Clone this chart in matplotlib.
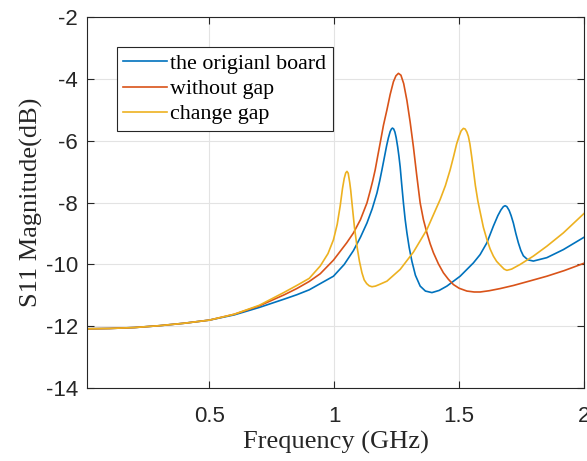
import matplotlib
matplotlib.use("Agg")
import matplotlib.pyplot as plt

plt.rcParams["axes.unicode_minus"] = False

# S11 sweep, frequency in GHz, magnitude in dB
freq_orig = [0.01, 0.1, 0.2, 0.3, 0.4, 0.5, 0.6, 0.7, 0.8, 0.85, 0.9, 0.944, 0.997,
             1.04, 1.077, 1.105, 1.131, 1.152, 1.171, 1.182, 1.191, 1.198, 1.204, 1.21,
             1.217, 1.224, 1.229, 1.233, 1.238, 1.243, 1.248, 1.254, 1.259, 1.264, 1.27,
             1.277, 1.284, 1.291, 1.3, 1.311, 1.325, 1.344, 1.365, 1.391, 1.42, 1.451,
             1.504, 1.557, 1.584, 1.611, 1.637, 1.655, 1.667, 1.677, 1.684, 1.691, 1.7,
             1.708, 1.717, 1.727, 1.737, 1.747, 1.757, 1.775, 1.797, 1.851, 1.917, 2.0]
s11_orig = [-12.08, -12.07, -12.04, -11.98, -11.9, -11.8, -11.63, -11.39, -11.12, -10.98,
            -10.82, -10.62, -10.38, -10.0, -9.55, -9.12, -8.66, -8.2, -7.69, -7.3, -6.94,
            -6.65, -6.4, -6.15, -5.9, -5.7, -5.62, -5.59, -5.62, -5.72, -5.9, -6.2, -6.5,
            -6.85, -7.4, -8.01, -8.55, -8.98, -9.45, -9.9, -10.35, -10.7, -10.86, -10.91,
            -10.84, -10.7, -10.38, -9.95, -9.68, -9.3, -8.76, -8.42, -8.24, -8.13, -8.1,
            -8.13, -8.25, -8.42, -8.66, -9.0, -9.3, -9.55, -9.72, -9.85, -9.89, -9.78,
            -9.52, -9.12]

freq_nogap = [0.01, 0.1, 0.2, 0.3, 0.4, 0.5, 0.6, 0.7, 0.8, 0.85, 0.9, 0.944, 0.997,
              1.05, 1.077, 1.105, 1.131, 1.144, 1.154, 1.164, 1.174, 1.184, 1.197, 1.211,
              1.224, 1.237, 1.247, 1.257, 1.267, 1.278, 1.291, 1.304, 1.317, 1.33, 1.344,
              1.357, 1.371, 1.384, 1.397, 1.417, 1.437, 1.457, 1.477, 1.5, 1.531, 1.56,
              1.584, 1.62, 1.664, 1.717, 1.78, 1.851, 1.92, 2.0]
s11_nogap = [-12.08, -12.07, -12.04, -11.98, -11.9, -11.8, -11.61, -11.34, -10.98, -10.78,
             -10.55, -10.3, -9.86, -9.3, -8.98, -8.55, -8.01, -7.62, -7.3, -6.94, -6.5,
             -6.07, -5.5, -5.0, -4.5, -4.09, -3.9, -3.82, -3.88, -4.15, -4.7, -5.4, -6.2,
             -7.1, -8.01, -8.55, -8.98, -9.33, -9.62, -9.98, -10.27, -10.48, -10.65, -10.77,
             -10.86, -10.89, -10.89, -10.85, -10.78, -10.68, -10.54, -10.38, -10.2, -9.96]

freq_change = [0.01, 0.1, 0.2, 0.3, 0.4, 0.5, 0.6, 0.7, 0.8, 0.85, 0.9, 0.944, 0.975,
               0.997, 1.012, 1.024, 1.033, 1.04, 1.046, 1.051, 1.056, 1.062, 1.066, 1.071,
               1.081, 1.091, 1.101, 1.111, 1.12, 1.13, 1.14, 1.151, 1.165, 1.18, 1.211,
               1.264, 1.317, 1.371, 1.424, 1.445, 1.464, 1.478, 1.49, 1.5, 1.508, 1.517,
               1.524, 1.531, 1.537, 1.543, 1.55, 1.557, 1.565, 1.575, 1.584, 1.597, 1.611,
               1.624, 1.637, 1.65, 1.664, 1.68, 1.691, 1.71, 1.744, 1.797, 1.851, 1.917, 2.0]
s11_change = [-12.08, -12.07, -12.04, -11.98, -11.9, -11.8, -11.61, -11.32, -10.9, -10.68,
              -10.45, -10.05, -9.65, -9.2, -8.7, -8.1, -7.55, -7.22, -7.04, -6.99, -7.05,
              -7.35, -7.6, -8.01, -8.8, -9.41, -9.9, -10.27, -10.5, -10.62, -10.69, -10.72,
              -10.7, -10.65, -10.54, -10.16, -9.6, -8.87, -7.9, -7.45, -6.94, -6.5, -6.1,
              -5.85, -5.68, -5.6, -5.62, -5.72, -5.86, -6.1, -6.5, -6.94, -7.45, -7.95,
              -8.3, -8.8, -9.19, -9.5, -9.73, -9.9, -10.02, -10.15, -10.19, -10.15, -10.0,
              -9.73, -9.41, -8.98, -8.35]

series = [
    (freq_orig, s11_orig, "the origianl board", "#0072BD"),
    (freq_nogap, s11_nogap, "without gap", "#D95319"),
    (freq_change, s11_change, "change gap", "#EDB120"),
]

serif = ["Liberation Serif", "DejaVu Serif"]
sans = ["Liberation Sans", "DejaVu Sans"]

fig = plt.figure(figsize=(5.87, 4.61), dpi=100, facecolor="white")
ax = fig.add_axes([0.148, 0.158, 0.847, 0.805])

for f, s, label, color in series:
    ax.plot(f, s, color=color, linewidth=1.2, label=label)

ax.set_xlim(0.01, 2)
ax.set_ylim(-14, -2)
ax.set_xticks([0.5, 1, 1.5, 2])
ax.set_xticklabels(["0.5", "1", "1.5", "2"])
ax.set_yticks(range(-14, -1, 2))

ax.grid(True, color="#e3e3e3", linewidth=0.8)
ax.set_axisbelow(True)
for spine in ax.spines.values():
    spine.set_edgecolor("#262626")
    spine.set_linewidth(0.8)

ax.tick_params(direction="in", length=5, width=0.8, colors="#262626",
               top=True, right=True, labelsize=16)
ax.tick_params(axis="x", pad=13)
ax.tick_params(axis="y", pad=6.5)
for lbl in ax.get_xticklabels() + ax.get_yticklabels():
    lbl.set_family(sans)
    lbl.set_color("#262626")

ax.set_xlabel("Frequency (GHz)", family=serif, fontsize=19, color="#262626", labelpad=3)
ax.set_ylabel("S11 Magnitude(dB)", family=serif, fontsize=19, color="#262626", labelpad=2)

leg = ax.legend(loc="upper left", bbox_to_anchor=(0.06, 0.919), prop={"family": serif, "size": 15.8},
                frameon=True, fancybox=False, edgecolor="#262626", framealpha=1,
                handlelength=2.0, handletextpad=0.15, labelspacing=0.22, borderpad=0.3,
                borderaxespad=0)
leg.get_frame().set_linewidth(0.8)

fig.savefig("out.png", dpi=100, facecolor="white")
